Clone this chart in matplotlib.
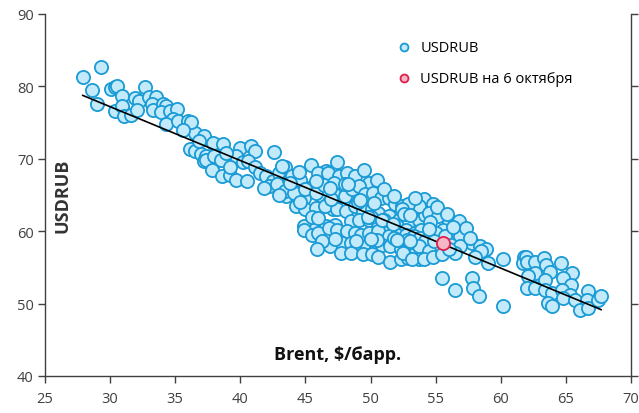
import matplotlib.pyplot as plt
import numpy as np

plt.rcParams['font.family'] = ['Open Sans', 'DejaVu Sans']

# Brent, $/bbl and USDRUB
brent = [
    27.9, 29.3, 28.6, 29.0, 30.1, 30.4, 30.5, 30.9, 30.4, 30.9, 31.1, 31.6,
    31.9, 32.2, 32.7, 33.0, 33.5, 33.2, 33.3, 34.1, 34.3, 33.9, 34.6, 35.1,
    34.8, 34.3, 35.2, 36.0, 36.5, 37.2, 37.9, 36.1, 36.5, 37.0, 37.4, 37.2,
    37.8, 38.1, 36.2, 38.7, 37.4, 38.0, 38.5, 37.8, 38.6, 39.2, 39.7, 40.0,
    40.8, 41.1, 39.7, 40.2, 40.6, 41.1, 42.6, 41.5, 42.0, 42.5, 43.0, 43.4,
    42.2, 42.8, 43.7, 44.0, 43.5, 44.5, 44.9, 45.4, 46.2, 46.6, 47.2, 47.4,
    45.3, 45.9, 46.3, 46.8, 47.3, 47.1, 44.9, 45.8, 46.6, 47.3,
    43.2, 44.0, 44.6, 46.0, 46.7, 47.6, 48.2, 48.8, 49.5, 49.9, 50.5,
    43.4, 44.1, 45.0, 45.8, 46.4, 47.2, 47.2, 48.0, 48.6, 49.1, 49.6, 50.2,
    50.8, 51.4, 51.9, 52.4, 53.1, 53.7, 54.1,
    44.3, 45.0, 45.8, 46.5, 47.4, 48.1, 48.8, 49.4, 50.1, 50.6, 51.4, 52.2,
    52.9, 53.7, 54.2,
    48.5, 49.1, 49.9, 50.6, 51.4, 52.0, 52.7, 53.4, 53.9,
    44.9, 45.5, 46.0, 46.8, 47.4, 48.2, 48.8, 49.3, 49.9, 50.6, 51.4, 52.0,
    52.7, 53.3, 53.8,
    46.9, 47.8, 48.5, 49.1, 49.7, 50.4, 50.9, 51.5, 52.3, 53.1, 53.7, 54.2,
    54.2, 47.7, 48.5, 49.4, 50.1, 50.6, 51.5, 52.3, 52.9, 53.7,
    54.1, 54.8, 53.7, 52.9, 52.4, 54.5, 55.2, 56.0, 56.8, 55.6, 56.4, 56.9,
    57.8, 58.4, 58.9, 58.5, 58.0, 59.0, 60.2, 61.8, 61.7,
    55.5, 57.8, 56.5, 57.9, 58.3, 60.2,
    52.9, 53.7, 54.5, 52.5, 53.2, 54.1, 54.8, 55.5,
    55.0, 55.7, 56.2, 56.9, 56.5,
    61.9, 62.0, 62.6, 63.3, 63.5, 62.6, 62.1, 63.8, 63.4, 64.6, 65.5, 64.8,
    65.4, 62.0, 62.6, 63.4, 63.9, 64.7, 65.3, 63.6, 63.9, 64.8, 65.7, 66.1,
    66.7, 66.6, 66.7, 67.5, 67.7,
    48.0, 49.0, 50.0, 51.0, 47.0, 45.5, 46.0, 50.5, 51.8, 52.8,
    44.5, 45.8, 46.9, 48.3, 49.2, 50.3, 51.0, 51.8, 52.6, 53.4, 54.6, 55.1,
    49.8, 50.9, 51.7, 53.0, 55.9, 56.3, 57.3, 57.6,
    54.9, 56.0, 52.0, 48.9, 47.3, 46.3, 45.9, 50.0, 53.0, 54.5, 43.8, 41.8,
    40.5, 39.2, 38.9, 36.8, 35.6, 32.1, 43.0, 44.6,
]
usdrub = [
    81.3, 82.7, 79.5, 77.5, 79.6, 79.9, 80.1, 78.7, 76.6, 77.3, 75.9, 76.1,
    78.4, 78.0, 79.9, 78.5, 78.5, 77.5, 76.8, 77.5, 77.3, 76.4, 76.6, 76.9,
    75.5, 74.8, 75.2, 75.2, 73.6, 73.1, 72.2, 71.3, 71.1, 70.6, 70.4, 69.7,
    69.0, 70.2, 75.1, 72.0, 69.9, 70.4, 69.9, 68.5, 67.6, 67.8, 67.1, 71.5,
    71.7, 71.1, 70.4, 69.5, 69.7, 68.8, 70.9, 68.1, 67.6, 66.9, 68.1, 68.8,
    66.2, 66.5, 67.1, 65.3, 64.8, 66.0, 64.6, 69.2, 67.6, 68.3, 66.7, 69.5,
    66.0, 65.8, 64.8, 64.1, 63.4, 63.0, 60.7, 60.5, 60.7, 60.9,
    69.0, 67.6, 67.1, 68.1, 68.1, 67.6, 68.1, 67.6, 68.5, 66.7, 67.1,
    65.5, 65.3, 65.8, 65.3, 66.4, 66.7, 65.1, 64.8, 65.8, 66.2, 65.1, 65.3,
    64.6, 64.6, 63.7, 63.5, 63.2, 63.0, 64.1,
    63.5, 63.0, 63.2, 63.5, 63.0, 62.8, 63.5, 62.8, 63.0, 62.5, 62.1, 61.6,
    61.1, 61.6, 62.3,
    61.4, 61.6, 61.6, 61.1, 60.5, 60.7, 60.2, 59.8, 60.2,
    60.2, 59.5, 59.8, 60.5, 60.2, 60.0, 59.8, 59.5, 59.8, 60.0, 59.3, 59.5,
    59.5, 59.3, 59.0,
    57.9, 58.4, 58.4, 57.9, 57.9, 57.7, 58.1, 57.9, 57.5, 57.5, 57.9, 58.6,
    56.3, 57.0, 57.0, 56.8, 56.8, 56.5, 55.8, 56.1, 56.3, 56.1,
    64.4, 63.7, 63.5, 63.7, 63.0, 62.5, 62.1, 61.1, 61.4, 60.2, 59.8, 59.3,
    58.4, 57.9, 57.5, 57.2, 56.5, 55.6, 56.1, 56.5, 55.6,
    53.5, 53.5, 51.9, 52.1, 51.0, 49.7,
    58.4, 57.9, 57.2, 57.0, 56.1, 56.1, 56.5, 56.8,
    59.8, 59.3, 58.1, 57.9, 57.0,
    56.5, 55.8, 55.8, 56.3, 55.3, 54.2, 53.8, 54.4, 53.3, 55.6, 54.2, 53.5,
    52.6, 52.1, 52.1, 51.9, 51.5, 51.9, 51.2, 50.1, 49.6, 50.8, 50.5, 49.1,
    51.7, 50.5, 49.4, 50.5, 51.0,
    66.5, 64.0, 62.0, 61.5, 64.5, 62.0, 61.8, 58.8, 59.0, 58.8,
    68.2, 67.0, 66.0, 66.5, 64.3, 63.9, 65.8, 64.9, 62.4, 64.6, 61.3, 63.4,
    61.9, 61.5, 61.0, 62.3, 62.4, 60.6, 60.4, 59.1,
    58.7, 57.6, 58.8, 58.7, 58.9, 58.6, 57.5, 58.9, 58.6, 60.3, 66.6, 66.0,
    67.0, 68.8, 70.8, 72.5, 74.0, 76.7, 65.0, 64.1,
]

# 6 October point
oct6_brent = [55.6]
oct6_usdrub = [58.3]

fig = plt.figure(figsize=(6.39, 4.14), dpi=100)
ax = fig.add_axes([0.0704, 0.0894, 0.9171, 0.8744])

ax.scatter(brent, usdrub, s=90, facecolor='#c2eafb', edgecolor='#1a9bd5',
           linewidth=1.3, zorder=2, label='USDRUB')
ax.scatter(oct6_brent, oct6_usdrub, s=90, facecolor='#f7b6c6', edgecolor='#de1f4c',
           linewidth=1.3, zorder=4, label='USDRUB на 6 октября')

# linear trend
k, b = np.polyfit(brent, usdrub, 1)
xs = np.array([min(brent), max(brent)])
ax.plot(xs, k * xs + b, color='black', lw=1.2, zorder=3)

ax.set_xlim(25, 70)
ax.set_ylim(40, 90)
ax.set_xticks(range(25, 71, 5))
ax.set_yticks(range(40, 91, 10))

ax.spines['top'].set_visible(False)
for s in ['left', 'bottom', 'right']:
    ax.spines[s].set_color('#404040')
    ax.spines[s].set_linewidth(1.0)
ax.tick_params(colors='#404040', labelsize=10.5, length=5, width=1.0)
ax.tick_params(axis='x', pad=6)
ax.tick_params(axis='y', right=True, pad=3)

ax.text(0.5, 0.035, 'Brent, $/барр.', transform=ax.transAxes, ha='center',
        va='bottom', fontsize=13, fontweight='bold', color='#111111')
ax.text(0.015, 0.5, 'USDRUB', transform=ax.transAxes, rotation=90, ha='left',
        va='center', fontsize=13, fontweight='bold', color='#333333')

ax.legend(loc='upper left', bbox_to_anchor=(0.566, 0.965), frameon=False,
          fontsize=10.5, handletextpad=0.1, labelspacing=1.1, markerscale=0.6)

fig.savefig('out.png', dpi=100)
